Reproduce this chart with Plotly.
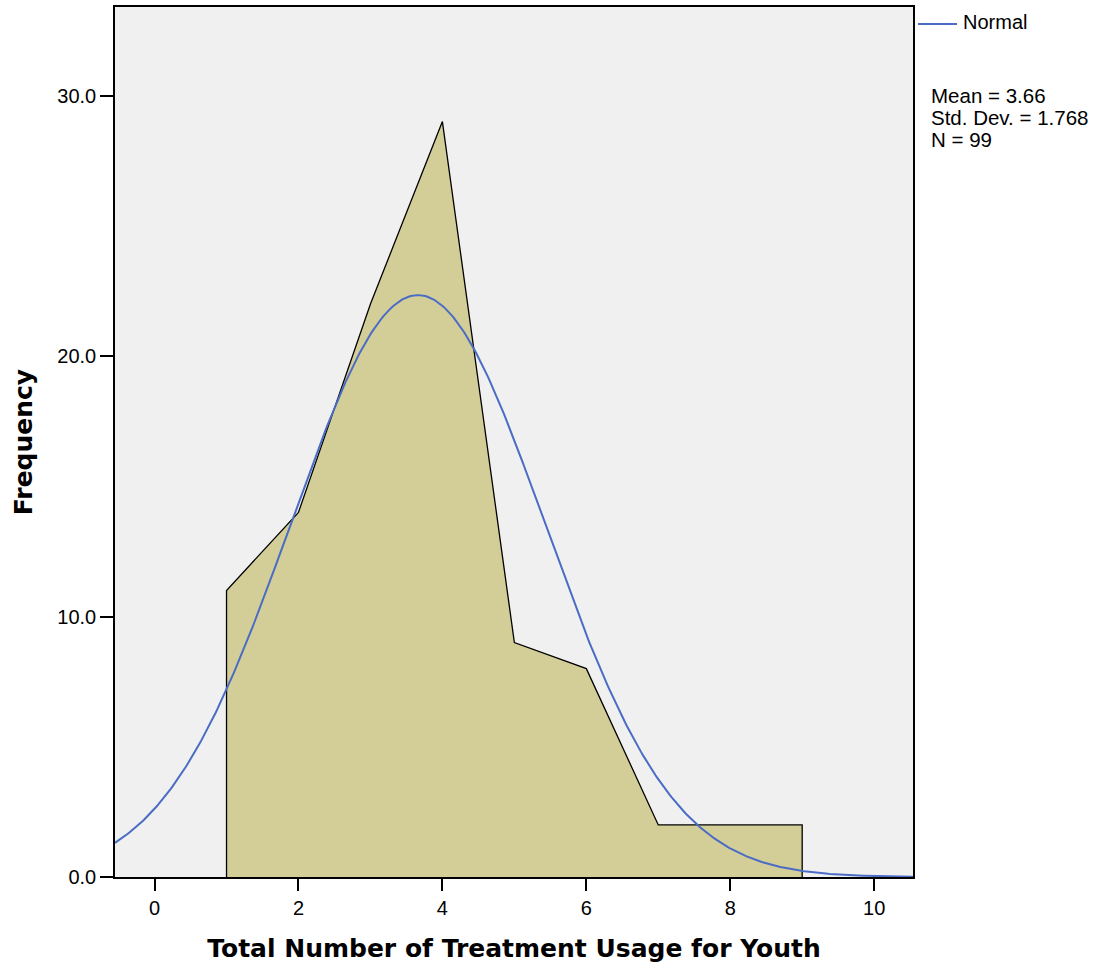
import numpy as np
import plotly.graph_objects as go

# Data
usage = [1, 2, 3, 4, 5, 6, 7, 8, 9]
frequency = [11, 14, 22, 29, 9, 8, 2, 2, 2]
mean_val = 3.66
std_val = 1.768
n_val = 99
x_ticks = [0, 2, 4, 6, 8, 10]
y_ticks = [0, 10, 20, 30]
stat_lines = [f"Mean = {mean_val:.2f}", f"Std. Dev. = {std_val:.3f}", f"N = {n_val}"]

x_range = [-0.55, 10.54]
y_range = [0, 33.4]

# Frequency polygon, closed down to the baseline at both ends
poly_x = [usage[0]] + usage + [usage[-1]]
poly_y = [0] + frequency + [0]

# Fitted normal curve (bin width 1)
cx = np.linspace(x_range[0], x_range[1], 500)
cy = n_val * np.exp(-0.5 * ((cx - mean_val) / std_val) ** 2) / (std_val * np.sqrt(2 * np.pi))

sans = "Arial, Liberation Sans, sans-serif"
bold = "DejaVu Sans, Verdana, sans-serif"
curve_color = "#4a6cc4"

# plot-area geometry (pixels)
L, R, T, B = 115, 189, 5, 95
W, H = 1102, 972
pw, ph = W - L - R, H - T - B


def px_x(p):
    return (p - L) / pw


def px_y(p):
    return (H - B - p) / ph


fig = go.Figure()
fig.add_trace(go.Scatter(
    x=poly_x, y=poly_y, mode="lines", fill="toself",
    fillcolor="#d3ce97", line=dict(color="black", width=1.3),
    showlegend=False, hoverinfo="skip"))
fig.add_trace(go.Scatter(
    x=cx, y=cy, mode="lines", name="Normal",
    line=dict(color=curve_color, width=2), showlegend=False))

annotations = [dict(
    xref="paper", yref="paper", x=px_x(961), y=px_y(20.5),
    xanchor="left", yanchor="middle", showarrow=False,
    text="Normal", font=dict(size=20, family=sans))]
for i, (line, yc) in enumerate(zip(stat_lines, [93.5, 115.5, 137.5])):
    annotations.append(dict(
        xref="paper", yref="paper", x=px_x(929), y=px_y(yc),
        xanchor="left", yanchor="middle", showarrow=False,
        text=line, font=dict(size=20.5, family=sans)))

fig.update_layout(
    width=W, height=H,
    margin=dict(l=L, r=R, t=T, b=B),
    paper_bgcolor="white", plot_bgcolor="#f0f0f0",
    font=dict(family=sans, size=20, color="black"),
    showlegend=False,
    annotations=annotations,
    shapes=[dict(type="line", xref="paper", yref="paper",
                 x0=px_x(918), x1=px_x(957), y0=px_y(22), y1=px_y(22),
                 line=dict(color=curve_color, width=2))],
)
fig.update_xaxes(
    range=x_range, tickvals=x_ticks, ticks="outside", ticklen=12,
    tickcolor="black", tickwidth=1.5, showgrid=False, zeroline=False,
    showline=True, linecolor="black", linewidth=1.5, mirror=True,
    tickfont=dict(size=20, family=sans),
    title=dict(text="<b>Total Number of Treatment Usage for Youth</b>",
               font=dict(size=25, family=bold), standoff=22))
fig.update_yaxes(
    range=y_range, tickvals=y_ticks, tickformat=".1f", ticks="outside",
    ticklen=13, tickcolor="black", tickwidth=1.5, showgrid=False,
    zeroline=False, showline=True, linecolor="black", linewidth=1.5,
    mirror=True, tickfont=dict(size=20, family=sans),
    title=dict(text="<b>Frequency</b>", font=dict(size=25, family=bold),
               standoff=18))

fig.write_html("out.html")
